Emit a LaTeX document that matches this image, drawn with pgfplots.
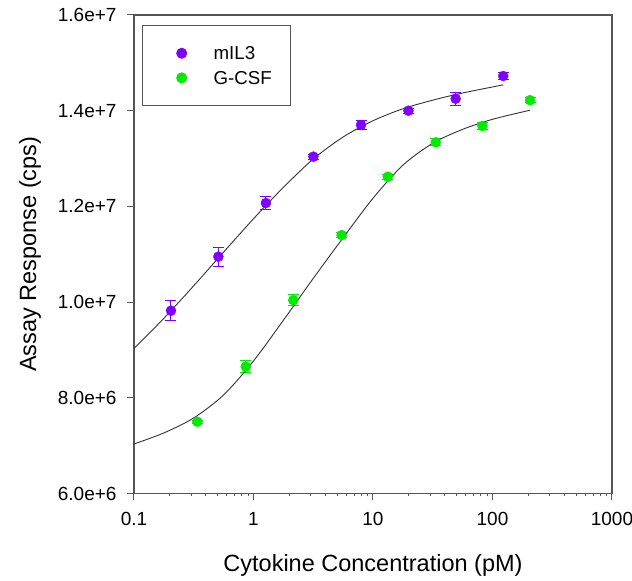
\documentclass[border=0pt]{standalone}
\usepackage{pgfplots}
\pgfplotsset{compat=1.18}
\usepackage{pgfplotstable}
\usepackage{fontspec}
\setmainfont{Liberation Sans}
\definecolor{mpurple}{RGB}{127,0,255}
\definecolor{mgreen}{RGB}{0,235,0}
\definecolor{axgray}{RGB}{85,85,85}

\pgfplotsset{mylegimg/.style={legend image code/.code={\path (0pt,0pt) (57pt,0pt); \draw[##1] plot coordinates {(25.6pt,0pt)};}}}

\pgfplotstableread{
x y e
0.204 9.82e6 0.21e6
0.508 10.95e6 0.20e6
1.27 12.07e6 0.145e6
3.17 13.04e6 0.05e6
7.94 13.70e6 0.10e6
19.8 14.00e6 0.05e6
49.2 14.25e6 0.14e6
123 14.725e6 0.07e6
}\mildata

\pgfplotstableread{
x y e
0.339 7.50e6 0.03e6
0.861 8.65e6 0.13e6
2.15 10.04e6 0.12e6
5.47 11.40e6 0.05e6
13.3 12.62e6 0.05e6
33.5 13.34e6 0.07e6
82.3 13.68e6 0.07e6
206 14.22e6 0.05e6
}\gcsfdata

\pgfplotstableread{
x y
0.1 9.03e6
0.1778 9.661e6
0.3162 10.342e6
0.5623 11.045e6
1 11.741e6
1.778 12.397e6
3.162 12.99e6
5.623 13.45e6
10 13.79e6
17.78 14.04e6
31.62 14.22e6
56.23 14.37e6
123 14.54e6
}\milfit

\pgfplotstableread{
x y
0.1 7.035e6
0.1778 7.266e6
0.3162 7.579e6
0.5623 8.06e6
1 8.77e6
1.778 9.62e6
3.162 10.495e6
5.623 11.345e6
10 12.17e6
17.78 12.86e6
31.62 13.32e6
56.23 13.61e6
100 13.82e6
206 14.01e6
}\gcsffit

\begin{document}
\begin{tikzpicture}
\path[use as bounding box] (-134pt,-87.5pt) rectangle (498pt,493.5pt);
\begin{axis}[
  at={(0pt,0pt)}, anchor=south west,
  width=478pt, height=478.5pt, scale only axis,
  xmode=log, xmin=0.1, xmax=1000, ymin=6e6, ymax=1.6e7,
  xtick={0.1,1,10,100,1000}, xticklabels={0.1,1,10,100,1000},
  ytick={6e6,8e6,1e7,1.2e7,1.4e7,1.6e7},
  yticklabels={6.0e+6,8.0e+6,1.0e+7,1.2e+7,1.4e+7,1.6e+7},
  scaled y ticks=false,
  minor xtick={}, minor ytick={},
  xtick align=outside, ytick align=outside,
  xtick pos=bottom, ytick pos=left,
  major tick length=7pt,
  axis line style={axgray, line width=1.2pt},
  xtick style={draw=axgray, line width=1pt},
  ytick style={draw=axgray, line width=1pt},
  ticklabel style={font=\fontsize{19}{19}\selectfont},
  xticklabel style={yshift=-8pt},
  yticklabel style={xshift=-7pt},
  xlabel={Cytokine Concentration (pM)},
  ylabel={Assay Response (cps)},
  every axis x label/.style={at={(axis description cs:0.5,-0.1505)}, anchor=center, font=\fontsize{23.5}{24}\selectfont},
  every axis y label/.style={at={(axis description cs:-0.2176,0.5)}, anchor=center, rotate=90, font=\fontsize{23.5}{24}\selectfont},
  legend style={at={(axis description cs:0.0174,0.979)}, anchor=north west,
    draw=axgray, line width=1pt, font=\fontsize{18.7}{19}\selectfont,
    inner xsep=12.8pt, inner ysep=18pt, row sep=5.2pt,
    nodes={inner sep=0pt, text height=16.4pt, text depth=3pt, text width=64pt, align=left},
    cells={anchor=west}},
]
\addplot[only marks, mark=*, mark size=5pt, color=mpurple, mylegimg,
  error bars/.cd, y dir=both, y explicit,
  error bar style={mpurple, line width=1pt},
  error mark options={rotate=90, mpurple, mark size=5.5pt, line width=1pt}]
  table[x=x, y=y, y error=e] {\mildata};
\addlegendentry{mIL3}
\addplot[only marks, mark=*, mark size=5pt, color=mgreen, mylegimg,
  error bars/.cd, y dir=both, y explicit,
  error bar style={mgreen, line width=1pt},
  error mark options={rotate=90, mgreen, mark size=5.5pt, line width=1pt}]
  table[x=x, y=y, y error=e] {\gcsfdata};
\addlegendentry{G-CSF}
\addplot[forget plot, no marks, smooth, black!80, line width=0.9pt] table[x=x,y=y] {\milfit};
\addplot[forget plot, no marks, smooth, black!80, line width=0.9pt] table[x=x,y=y] {\gcsffit};
\end{axis}
\end{tikzpicture}
\end{document}
